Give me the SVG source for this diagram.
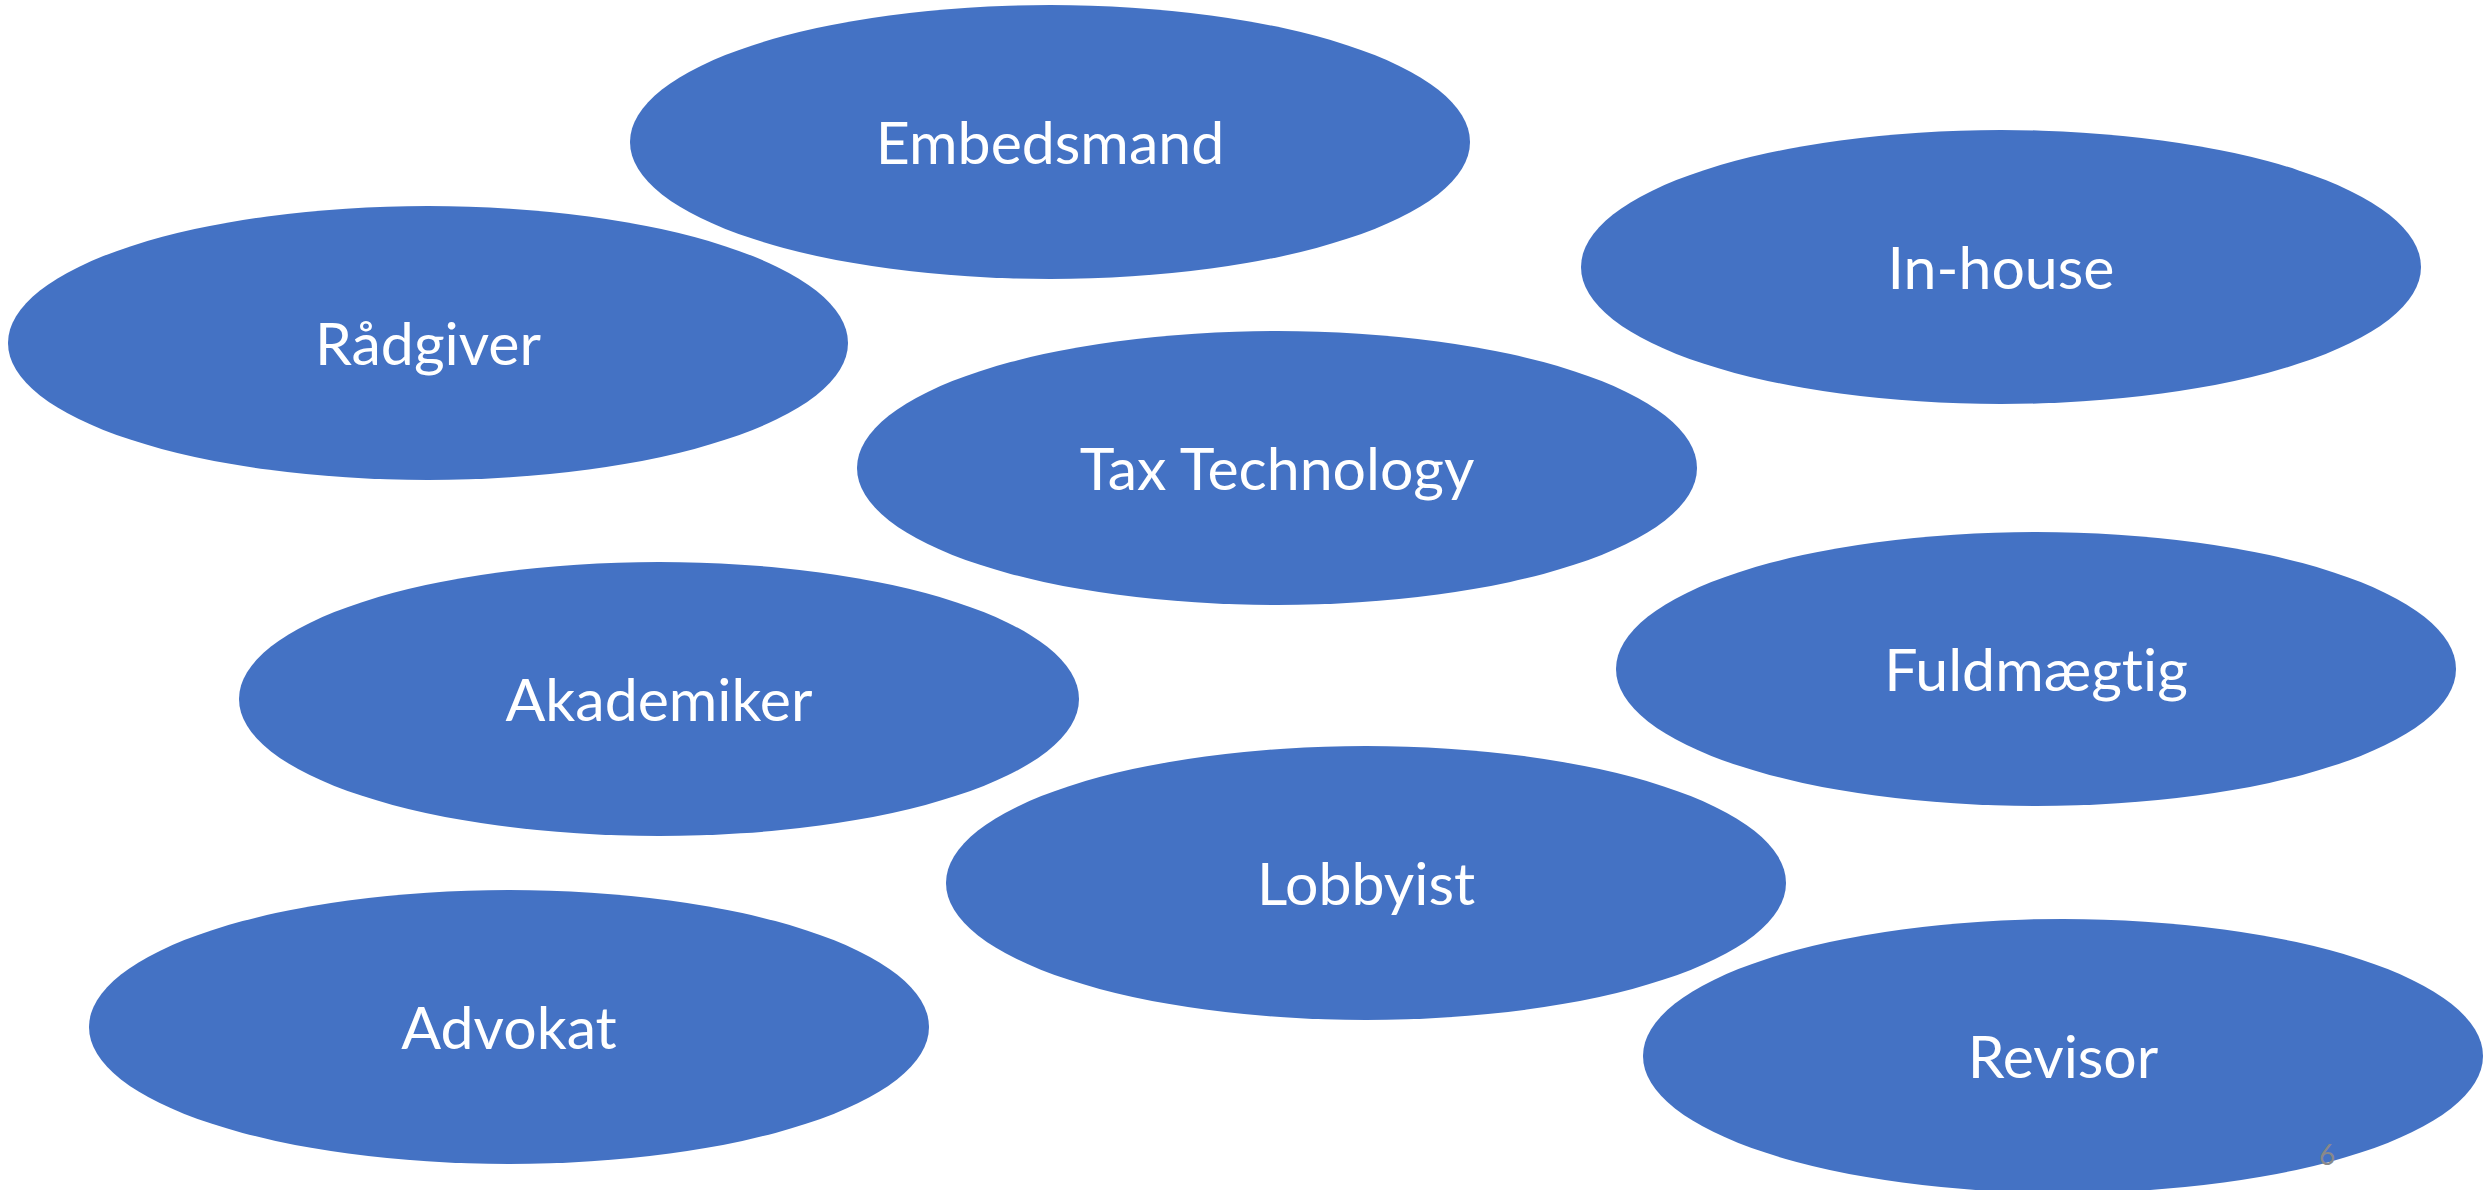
<svg xmlns="http://www.w3.org/2000/svg" width="2484" height="1190" viewBox="0 0 2484 1190">
<style>
.n{fill:#4472C4}
.t{fill:#ffffff;font-family:Lato,"Open Sans","Liberation Sans",sans-serif;font-size:59px;text-anchor:middle;font-variant-ligatures:none;font-feature-settings:"liga" 0}
.p{fill:#898989;font-family:Lato,"Open Sans","Liberation Sans",sans-serif;font-size:28px;text-anchor:middle}
</style>
<rect width="2484" height="1190" fill="#ffffff"/>
<g id="connectors"></g>
<g id="embedsmand"><ellipse class="n" cx="1050" cy="142" rx="420" ry="137"/><text class="t" x="1050" y="164">Embedsmand</text></g>
<g id="inhouse"><ellipse class="n" cx="2001" cy="267" rx="420" ry="137"/><text class="t" x="2001" y="289">In-house</text></g>
<g id="radgiver"><ellipse class="n" cx="428" cy="343" rx="420" ry="137"/><text class="t" x="428" y="365">Rådgiver</text></g>
<g id="taxtech"><ellipse class="n" cx="1277" cy="468" rx="420" ry="137"/><text class="t" x="1277" y="490">Tax Technology</text></g>
<g id="fuldmaegtig"><ellipse class="n" cx="2036" cy="669" rx="420" ry="137"/><text class="t" x="2036" y="691">Fuldmægtig</text></g>
<g id="akademiker"><ellipse class="n" cx="659" cy="699" rx="420" ry="137"/><text class="t" x="659" y="721">Akademiker</text></g>
<g id="lobbyist"><ellipse class="n" cx="1366" cy="883" rx="420" ry="137"/><text class="t" x="1366" y="905">Lobbyist</text></g>
<g id="advokat"><ellipse class="n" cx="509" cy="1027" rx="420" ry="137"/><text class="t" x="509" y="1049">Advokat</text></g>
<g id="revisor"><ellipse class="n" cx="2063" cy="1056" rx="420" ry="137"/><text class="t" x="2063" y="1078">Revisor</text></g>
<text class="p" x="2327" y="1165">6</text>
</svg>
